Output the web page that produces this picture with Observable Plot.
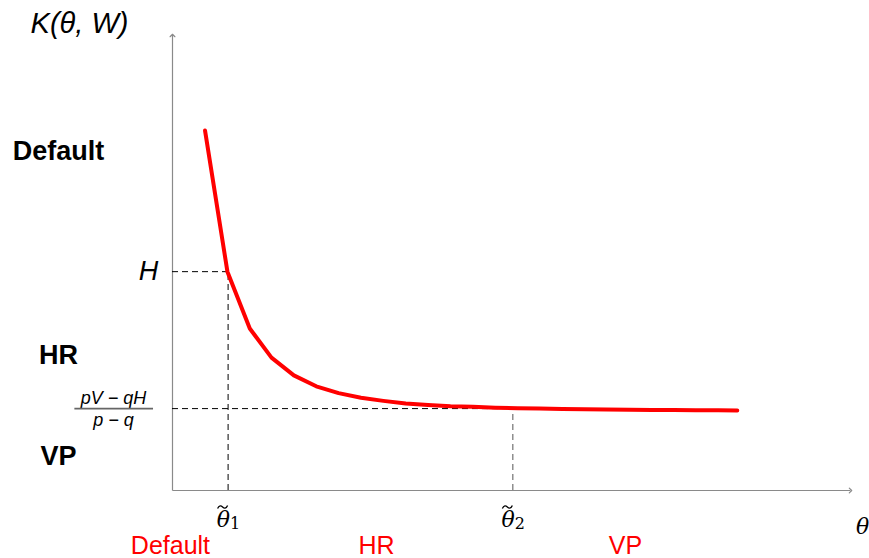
<!DOCTYPE html>
<html>
<head>
<meta charset="utf-8">
<script src="https://cdn.jsdelivr.net/npm/d3@7"></script>
<script src="https://cdn.jsdelivr.net/npm/@observablehq/plot@0.6"></script>
<style>
  html, body { margin: 0; padding: 0; background: white; }
  #chart svg { display: block; }
</style>
</head>
<body>
<div id="chart"></div>
<script>
// Curve K(theta, W) (abstract units)
const theta = [0.48, 0.81, 1.14, 1.46, 1.79, 2.12, 2.45, 2.78, 3.11, 3.44, 3.77, 4.10, 4.43,
               4.76, 5.09, 5.41, 5.75, 6.08, 6.40, 6.74, 7.07, 7.39, 7.72, 8.05, 8.33];
const K = [7.91, 4.81, 3.56, 2.92, 2.53, 2.29, 2.14, 2.04, 1.97, 1.91, 1.88, 1.85, 1.84,
           1.82, 1.81, 1.80, 1.79, 1.785, 1.78, 1.775, 1.77, 1.77, 1.765, 1.765, 1.76];

// Reference levels
const H = 4.81;          // level H
const L = 1.80;          // (pV - qH)/(p - q)
const theta1 = 0.82;     // theta~_1
const theta2 = 5.02;     // theta~_2
const tickThetas = [theta1, theta2];
const tickSubs = ["1", "2"];

// Region names
const regions = ["Default", "HR", "VP"];

const curve = theta.map((t, i) => ({theta: t, K: K[i]}));

const sans = "'Liberation Sans', Arial, sans-serif";
const serif = "'DejaVu Serif', 'Liberation Serif', serif";
const axisColor = "#8a8a8a";

// tilde accents above the theta tick labels (drawn from the x scale)
function tildes(index, scales) {
  const g = d3.create("svg:g").attr("fill", "none").attr("stroke", "black").attr("stroke-width", 1.3);
  tickThetas.forEach(t => {
    const cx = scales.x(t) - 5;
    const cy = scales.y(0) + 17;
    g.append("path")
      .attr("d", `M${cx - 5},${cy + 1.5} C${cx - 3.5},${cy - 2} ${cx - 1.5},${cy - 1.5} ${cx},${cy} S${cx + 3.5},${cy + 2} ${cx + 5},${cy - 1.5}`);
  });
  return g.node();
}

const plot = Plot.plot({
  width: 869,
  height: 558,
  margin: 0,
  style: {background: "white", overflow: "visible"},
  x: {domain: [0, 10], range: [172, 850], axis: null},
  y: {domain: [0, 10], range: [490, 35], axis: null},
  marks: [
    // axes with arrows
    Plot.link([0], {x1: 0, y1: 0, x2: 10, y2: 0, stroke: axisColor, strokeWidth: 1.2, markerEnd: "arrow"}),
    Plot.link([0], {x1: 0, y1: 0, x2: 0, y2: 10, stroke: axisColor, strokeWidth: 1.2, markerEnd: "arrow"}),
    // dashed guides
    Plot.ruleY([H], {x1: 0, x2: theta1, stroke: "black", strokeDasharray: "6,4", strokeWidth: 1}),
    Plot.ruleX([theta1], {y1: 0, y2: H, stroke: "black", strokeDasharray: "6,4", strokeWidth: 1}),
    Plot.ruleY([L], {x1: 0, x2: theta2, stroke: "black", strokeDasharray: "6,4", strokeWidth: 1}),
    Plot.ruleX([theta2], {y1: 0, y2: L, stroke: "#555", strokeDasharray: "6,4", strokeWidth: 1}),
    // curve
    Plot.line(curve, {x: "theta", y: "K", stroke: "#ff0000", strokeWidth: 4, strokeLinejoin: "round"}),
    // y label
    Plot.text(["K(θ, W)"], {x: 0, y: 10, dx: -93, dy: -3, lineAnchor: "bottom", textAnchor: "middle",
      fontFamily: sans, fontStyle: "italic", fontSize: 29, fill: "black"}),
    // x label
    Plot.text(["θ"], {x: 10, y: 0, dx: 12, dy: 43, lineAnchor: "bottom", textAnchor: "middle",
      fontFamily: serif, fontStyle: "italic", fontSize: 22, fill: "black"}),
    // H tick label
    Plot.text(["H"], {x: 0, y: H, dx: -24, lineAnchor: "middle", textAnchor: "middle",
      fontFamily: sans, fontStyle: "italic", fontSize: 27, fill: "black"}),
    // fraction label
    Plot.text(["pV − qH"], {x: 0, y: L, dx: -59, dy: -5, lineAnchor: "bottom", textAnchor: "middle",
      fontFamily: sans, fontStyle: "italic", fontSize: 18, fill: "black"}),
    Plot.text(["p − q"], {x: 0, y: L, dx: -59, dy: 17, lineAnchor: "bottom", textAnchor: "middle",
      fontFamily: sans, fontStyle: "italic", fontSize: 18, fill: "black"}),
    Plot.ruleY([L], {x1: -1.44, x2: -0.28, stroke: "#666", strokeWidth: 1.6}),
    // theta tilde tick labels
    Plot.text(tickThetas, {x: d => d, y: 0, dx: 2, dy: 36, lineAnchor: "bottom", textAnchor: "end",
      text: () => "θ", fontFamily: serif, fontStyle: "italic", fontSize: 22, fill: "black"}),
    tildes,
    Plot.text(tickSubs, {x: (d, i) => tickThetas[i], y: 0, dx: 2, dy: 38, lineAnchor: "bottom", textAnchor: "start",
      fontFamily: serif, fontSize: 16, fill: "black"}),
    // region labels on the left (bold)
    Plot.text(regions, {x: 0, y: (d, i) => [7.27, 2.77, 0.55][i], dx: -114, lineAnchor: "bottom", textAnchor: "middle",
      fontFamily: sans, fontWeight: "bold", fontSize: 27, fill: "black"}),
    // region labels along the bottom (red)
    Plot.text(regions, {x: (d, i) => [-0.03, 3.01, 6.68][i], y: 0, dy: 63, lineAnchor: "bottom", textAnchor: "middle",
      fontFamily: sans, fontSize: 25, fill: "#ff0000"})
  ]
});

document.getElementById("chart").appendChild(plot);
</script>
</body>
</html>
